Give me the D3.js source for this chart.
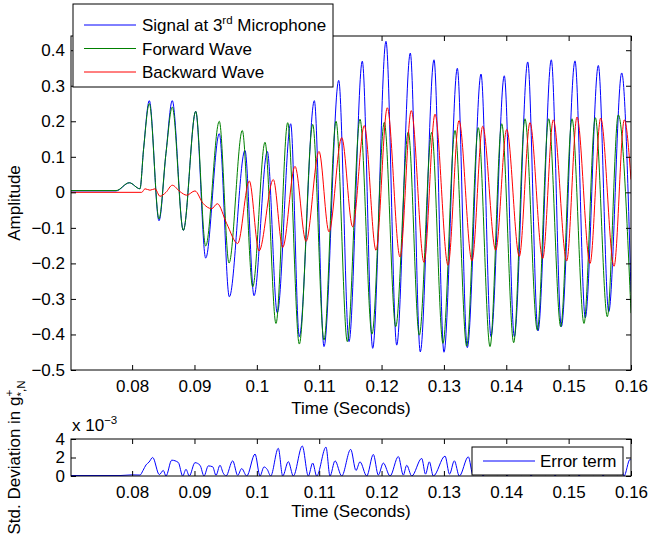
<!DOCTYPE html>
<html>
<head>
<meta charset="utf-8">
<script src="https://cdn.jsdelivr.net/npm/d3@7"></script>
<style>
  body { margin: 0; background: #fff; }
  svg { display: block; font-family: "Liberation Sans", Arial, sans-serif; }
  .axis path, .axis line { stroke: #000; }
  .axis text { font-size: 17px; fill: #000; font-family: "Liberation Sans", Arial, sans-serif; }
</style>
</head>
<body>
<svg id="chart"></svg>
<script>
const width = 649;
const height = 537;

// Tick values
const timeTicks = [0.08, 0.09, 0.1, 0.11, 0.12, 0.13, 0.14, 0.15, 0.16];
const ampTicks = [-0.5, -0.4, -0.3, -0.2, -0.1, 0, 0.1, 0.2, 0.3, 0.4];
const errTicks = [0, 2, 4];

// Signal at 3rd microphone: [time (s), amplitude] at turning points
const signalMic3 = [
  [0.0702, 0.004], [0.07742, 0.004], [0.07955, 0.027], [0.08126, 0.010], [0.08183, 0.12],
  [0.08276, 0.258], [0.08431, -0.080], [0.08543, 0.11], [0.08644, 0.258], [0.08821, -0.107],
  [0.0902, 0.228], [0.0918, -0.185], [0.09398, 0.165], [0.09559, -0.294], [0.0981, 0.118],
  [0.09955, -0.291], [0.10168, 0.115], [0.10328, -0.339], [0.10543, 0.193], [0.10681, -0.406],
  [0.10922, 0.258], [0.11077, -0.434], [0.11313, 0.315], [0.11478, -0.42], [0.11691, 0.369],
  [0.11858, -0.439], [0.12071, 0.425], [0.12243, -0.43], [0.12461, 0.392], [0.12621, -0.449],
  [0.12841, 0.373], [0.13001, -0.45], [0.13215, 0.349], [0.13375, -0.437], [0.13595, 0.333],
  [0.13755, -0.406], [0.13968, 0.328], [0.14129, -0.406], [0.14344, 0.367], [0.14509, -0.39],
  [0.14722, 0.373], [0.14883, -0.378], [0.15102, 0.37], [0.15267, -0.353], [0.15476, 0.357],
  [0.15643, -0.336], [0.15851, 0.336], [0.16, -0.28]
];

// Forward wave
const forwardWave = [
  [0.0702, 0.005], [0.07742, 0.005], [0.07955, 0.027], [0.08126, 0.010], [0.08183, 0.12],
  [0.08276, 0.25], [0.08431, -0.075], [0.08543, 0.11], [0.08644, 0.24], [0.08821, -0.107],
  [0.0902, 0.228], [0.0918, -0.151], [0.09398, 0.2], [0.09554, -0.199], [0.09767, 0.174],
  [0.09934, -0.266], [0.10131, 0.141], [0.10307, -0.369], [0.10495, 0.196], [0.10681, -0.427],
  [0.10896, 0.191], [0.11077, -0.416], [0.1127, 0.2], [0.11451, -0.42], [0.11654, 0.206],
  [0.11847, -0.399], [0.12044, 0.197], [0.12227, -0.378], [0.12429, 0.17], [0.12605, -0.402],
  [0.12804, 0.169], [0.12985, -0.425], [0.13178, 0.174], [0.13365, -0.433], [0.13551, 0.182],
  [0.13739, -0.434], [0.13927, 0.193], [0.14119, -0.423], [0.143, 0.207], [0.14498, -0.388],
  [0.1468, 0.207], [0.14873, -0.378], [0.15054, 0.207], [0.15246, -0.369], [0.15428, 0.21],
  [0.1562, -0.35], [0.15796, 0.218], [0.16, -0.34]
];

// Backward wave
const backwardWave = [
  [0.0702, 0], [0.08154, 0], [0.08207, 0.01], [0.08287, 0.006], [0.08367, 0.01],
  [0.08447, -0.011], [0.08543, 0.0], [0.08644, 0.02], [0.08768, 0.002], [0.08875, -0.008],
  [0.09008, 0.004], [0.09137, -0.031], [0.09276, -0.046], [0.09366, -0.032], [0.09517, -0.088],
  [0.09693, -0.144], [0.09879, 0.032], [0.10035, -0.165], [0.10264, 0.036], [0.10415, -0.155],
  [0.10612, 0.073], [0.10789, -0.138], [0.10997, 0.115], [0.11157, -0.111], [0.11361, 0.154],
  [0.11537, -0.097], [0.11723, 0.188], [0.11911, -0.163], [0.12092, 0.238], [0.12296, -0.182],
  [0.12477, 0.23], [0.12681, -0.197], [0.12857, 0.22], [0.13066, -0.205], [0.13242, 0.202],
  [0.1345, -0.193], [0.13622, 0.186], [0.1383, -0.163], [0.14007, 0.177], [0.14209, -0.18],
  [0.1438, 0.196], [0.14584, -0.186], [0.14754, 0.204], [0.14969, -0.193], [0.15134, 0.212],
  [0.15343, -0.2], [0.15514, 0.209], [0.15728, -0.208], [0.15893, 0.204], [0.16, 0.036]
];

// Error term (std. deviation, units of 1e-3)
const errorTerm = [
  [0.0702, 0.05], [0.07806, 0.05], [0.07998, 0.12], [0.08126, 0.1], [0.08175, 0.6],
  [0.08223, 1.2], [0.08271, 1.5], [0.0833, 2.0], [0.08436, 0.15], [0.085, 0.6],
  [0.08543, 0.0], [0.08635, 1.71], [0.08741, 1.46], [0.08811, 0.0], [0.08864, 0.72],
  [0.08917, 0.0], [0.09008, 1.44], [0.09089, 1.16], [0.09153, 0.0], [0.09222, 1.09],
  [0.09292, 1.0], [0.09345, 0.07], [0.09409, 1.16], [0.09462, 0.3], [0.09506, 0.0],
  [0.09613, 1.64], [0.09693, 0.07], [0.09757, 0.8], [0.09838, 0.0], [0.09971, 2.37],
  [0.10051, 0.0], [0.10115, 0.98], [0.10168, 0.7], [0.10222, 0.0], [0.10344, 2.99],
  [0.10415, 0.0], [0.10505, 1.55], [0.10585, 0.0], [0.10729, 3.24], [0.10825, 0.0],
  [0.10896, 1.4], [0.1096, 0.0], [0.11109, 3.12], [0.11173, 0.0], [0.11254, 1.64],
  [0.11361, 0.0], [0.11505, 2.88], [0.1159, 0.6], [0.11654, 1.53], [0.11762, 0.0],
  [0.11868, 2.33], [0.11948, 0.1], [0.12028, 1.4], [0.12136, 0.0], [0.12269, 2.1],
  [0.12349, 0.1], [0.12403, 1.16], [0.12484, 0.0], [0.12644, 1.9], [0.12705, 0.2],
  [0.12766, 1.53], [0.1283, 0.0], [0.13018, 2.15], [0.1309, 0.2], [0.13167, 1.64],
  [0.13247, 0.0], [0.13391, 2.07], [0.13467, 0.1], [0.13547, 1.5], [0.13627, 0.0],
  [0.13771, 2.0], [0.13851, 0.1], [0.13932, 1.5], [0.14012, 0.0], [0.14156, 2.0],
  [0.14236, 0.1], [0.14316, 1.5], [0.14397, 0.0], [0.14541, 2.0], [0.14621, 0.1],
  [0.14701, 1.5], [0.14781, 0.0], [0.14926, 2.0], [0.15006, 0.1], [0.15086, 1.5],
  [0.15166, 0.0], [0.15311, 2.0], [0.15391, 0.1], [0.15471, 1.5], [0.15551, 0.0],
  [0.15696, 2.0], [0.15776, 0.1], [0.1584, 1.0], [0.15888, 0.0], [0.15984, 1.8], [0.16, 1.7]
];

const mainSeries = [
  { name: "Signal at 3", sup: "rd", rest: " Microphone", color: "#0000ff", data: signalMic3 },
  { name: "Forward Wave", color: "#008000", data: forwardWave },
  { name: "Backward Wave", color: "#ff0000", data: backwardWave },
];

const svg = d3.select("#chart").attr("width", width).attr("height", height);
svg.append("rect").attr("width", width).attr("height", height).attr("fill", "#fff");

// Panel boxes
const main = { left: 71, right: 631, top: 36, bottom: 370 };
const lower = { left: 71, right: 631, top: 439, bottom: 476 };

const x = d3.scaleLinear().domain([0.0702, 0.16]).range([main.left, main.right]);
const y = d3.scaleLinear().domain([-0.5, 0.44]).range([main.bottom, main.top]);
const yErr = d3.scaleLinear().domain([0, 4]).range([lower.bottom, lower.top]);

const fmt = (d) => (d === 0 ? "0" : String(+d.toFixed(2)).replace("-", "\u2212"));

function drawFrame(box, yScale, yTicks, yFormat) {
  const g = svg.append("g");
  g.append("g").attr("class", "axis")
    .attr("transform", `translate(0,${box.bottom})`)
    .call(d3.axisBottom(x).tickValues(timeTicks).tickSize(-5).tickSizeOuter(0).tickPadding(10).tickFormat(fmt));
  g.append("g").attr("class", "axis")
    .attr("transform", `translate(0,${box.top})`)
    .call(d3.axisTop(x).tickValues(timeTicks).tickSize(-5).tickSizeOuter(0).tickFormat(""));
  g.append("g").attr("class", "axis")
    .attr("transform", `translate(${box.left},0)`)
    .call(d3.axisLeft(yScale).tickValues(yTicks).tickSize(-5).tickSizeOuter(0).tickPadding(6).tickFormat(yFormat));
  g.append("g").attr("class", "axis")
    .attr("transform", `translate(${box.right},0)`)
    .call(d3.axisRight(yScale).tickValues(yTicks).tickSize(-5).tickSizeOuter(0).tickFormat(""));
  g.selectAll(".domain").remove();
  g.append("rect")
    .attr("x", box.left).attr("y", box.top)
    .attr("width", box.right - box.left).attr("height", box.bottom - box.top)
    .attr("fill", "none").attr("stroke", "#000").attr("stroke-width", 1);
  return g;
}

// Clip regions
const defs = svg.append("defs");
defs.append("clipPath").attr("id", "clipMain").append("rect")
  .attr("x", main.left).attr("y", main.top)
  .attr("width", main.right - main.left).attr("height", main.bottom - main.top);
defs.append("clipPath").attr("id", "clipLower").append("rect")
  .attr("x", lower.left).attr("y", lower.top)
  .attr("width", lower.right - lower.left).attr("height", lower.bottom - lower.top);

// Main panel lines
const line = d3.line().x((d) => x(d[0])).y((d) => y(d[1])).curve(d3.curveMonotoneX);
svg.append("g").attr("clip-path", "url(#clipMain)")
  .selectAll("path")
  .data(mainSeries)
  .enter()
  .append("path")
  .attr("d", (d) => line(d.data))
  .attr("fill", "none")
  .attr("stroke", (d) => d.color)
  .attr("stroke-width", 1);

drawFrame(main, y, ampTicks, fmt);

// Axis titles for main panel
svg.append("text")
  .attr("x", (main.left + main.right) / 2).attr("y", 414)
  .attr("text-anchor", "middle").attr("font-size", 17)
  .text("Time (Seconds)");
svg.append("text")
  .attr("transform", `translate(20,${(main.top + main.bottom) / 2}) rotate(-90)`)
  .attr("text-anchor", "middle").attr("font-size", 17)
  .text("Amplitude");

// Main legend
const legend = svg.append("g");
legend.append("rect")
  .attr("x", 73).attr("y", 4).attr("width", 260).attr("height", 83)
  .attr("fill", "#fff").attr("stroke", "#000");
const rows = legend.selectAll("g.row").data(mainSeries).enter().append("g")
  .attr("class", "row")
  .attr("transform", (d, i) => `translate(0,${25 + i * 23.5})`);
rows.append("line")
  .attr("x1", 84).attr("x2", 136).attr("y1", 0).attr("y2", 0)
  .attr("stroke", (d) => d.color);
const rowText = rows.append("text")
  .attr("x", 142).attr("y", 6).attr("font-size", 17);
rowText.append("tspan").text((d) => d.name);
rowText.filter((d) => d.sup).append("tspan")
  .attr("font-size", 11.5).attr("dy", -7).text((d) => d.sup);
rowText.filter((d) => d.sup).append("tspan")
  .attr("dy", 7).text((d) => d.rest);

// Lower panel
const errLine = d3.line().x((d) => x(d[0])).y((d) => yErr(d[1])).curve(d3.curveMonotoneX);
svg.append("g").attr("clip-path", "url(#clipLower)")
  .append("path")
  .attr("d", errLine(errorTerm))
  .attr("fill", "none")
  .attr("stroke", "#0000ff")
  .attr("stroke-width", 1);

drawFrame(lower, yErr, errTicks, (d) => String(d));

// Exponent label
const expo = svg.append("text").attr("x", 72).attr("y", 431).attr("font-size", 17);
expo.append("tspan").text("x 10");
expo.append("tspan").attr("font-size", 11.5).attr("dy", -7).text("\u22123");

svg.append("text")
  .attr("x", (lower.left + lower.right) / 2).attr("y", 517)
  .attr("text-anchor", "middle").attr("font-size", 17)
  .text("Time (Seconds)");

const stdLabel = svg.append("text")
  .attr("transform", `translate(20,${(lower.top + lower.bottom) / 2}) rotate(-90)`)
  .attr("text-anchor", "middle").attr("font-size", 17);
stdLabel.append("tspan").text("Std. Deviation in g");
stdLabel.append("tspan").attr("font-size", 11.5).attr("dy", -7).text("+");
stdLabel.append("tspan").attr("font-size", 11.5).attr("dx", -6.7).attr("dy", 12).text("*,N");

// Error legend
const errLegend = svg.append("g");
errLegend.append("rect")
  .attr("x", 472).attr("y", 447).attr("width", 151).attr("height", 28)
  .attr("fill", "#fff").attr("stroke", "#000");
errLegend.append("line")
  .attr("x1", 483).attr("x2", 535).attr("y1", 461).attr("y2", 461)
  .attr("stroke", "#0000ff");
errLegend.append("text")
  .attr("x", 540).attr("y", 467).attr("font-size", 17)
  .text("Error term");
</script>
</body>
</html>
